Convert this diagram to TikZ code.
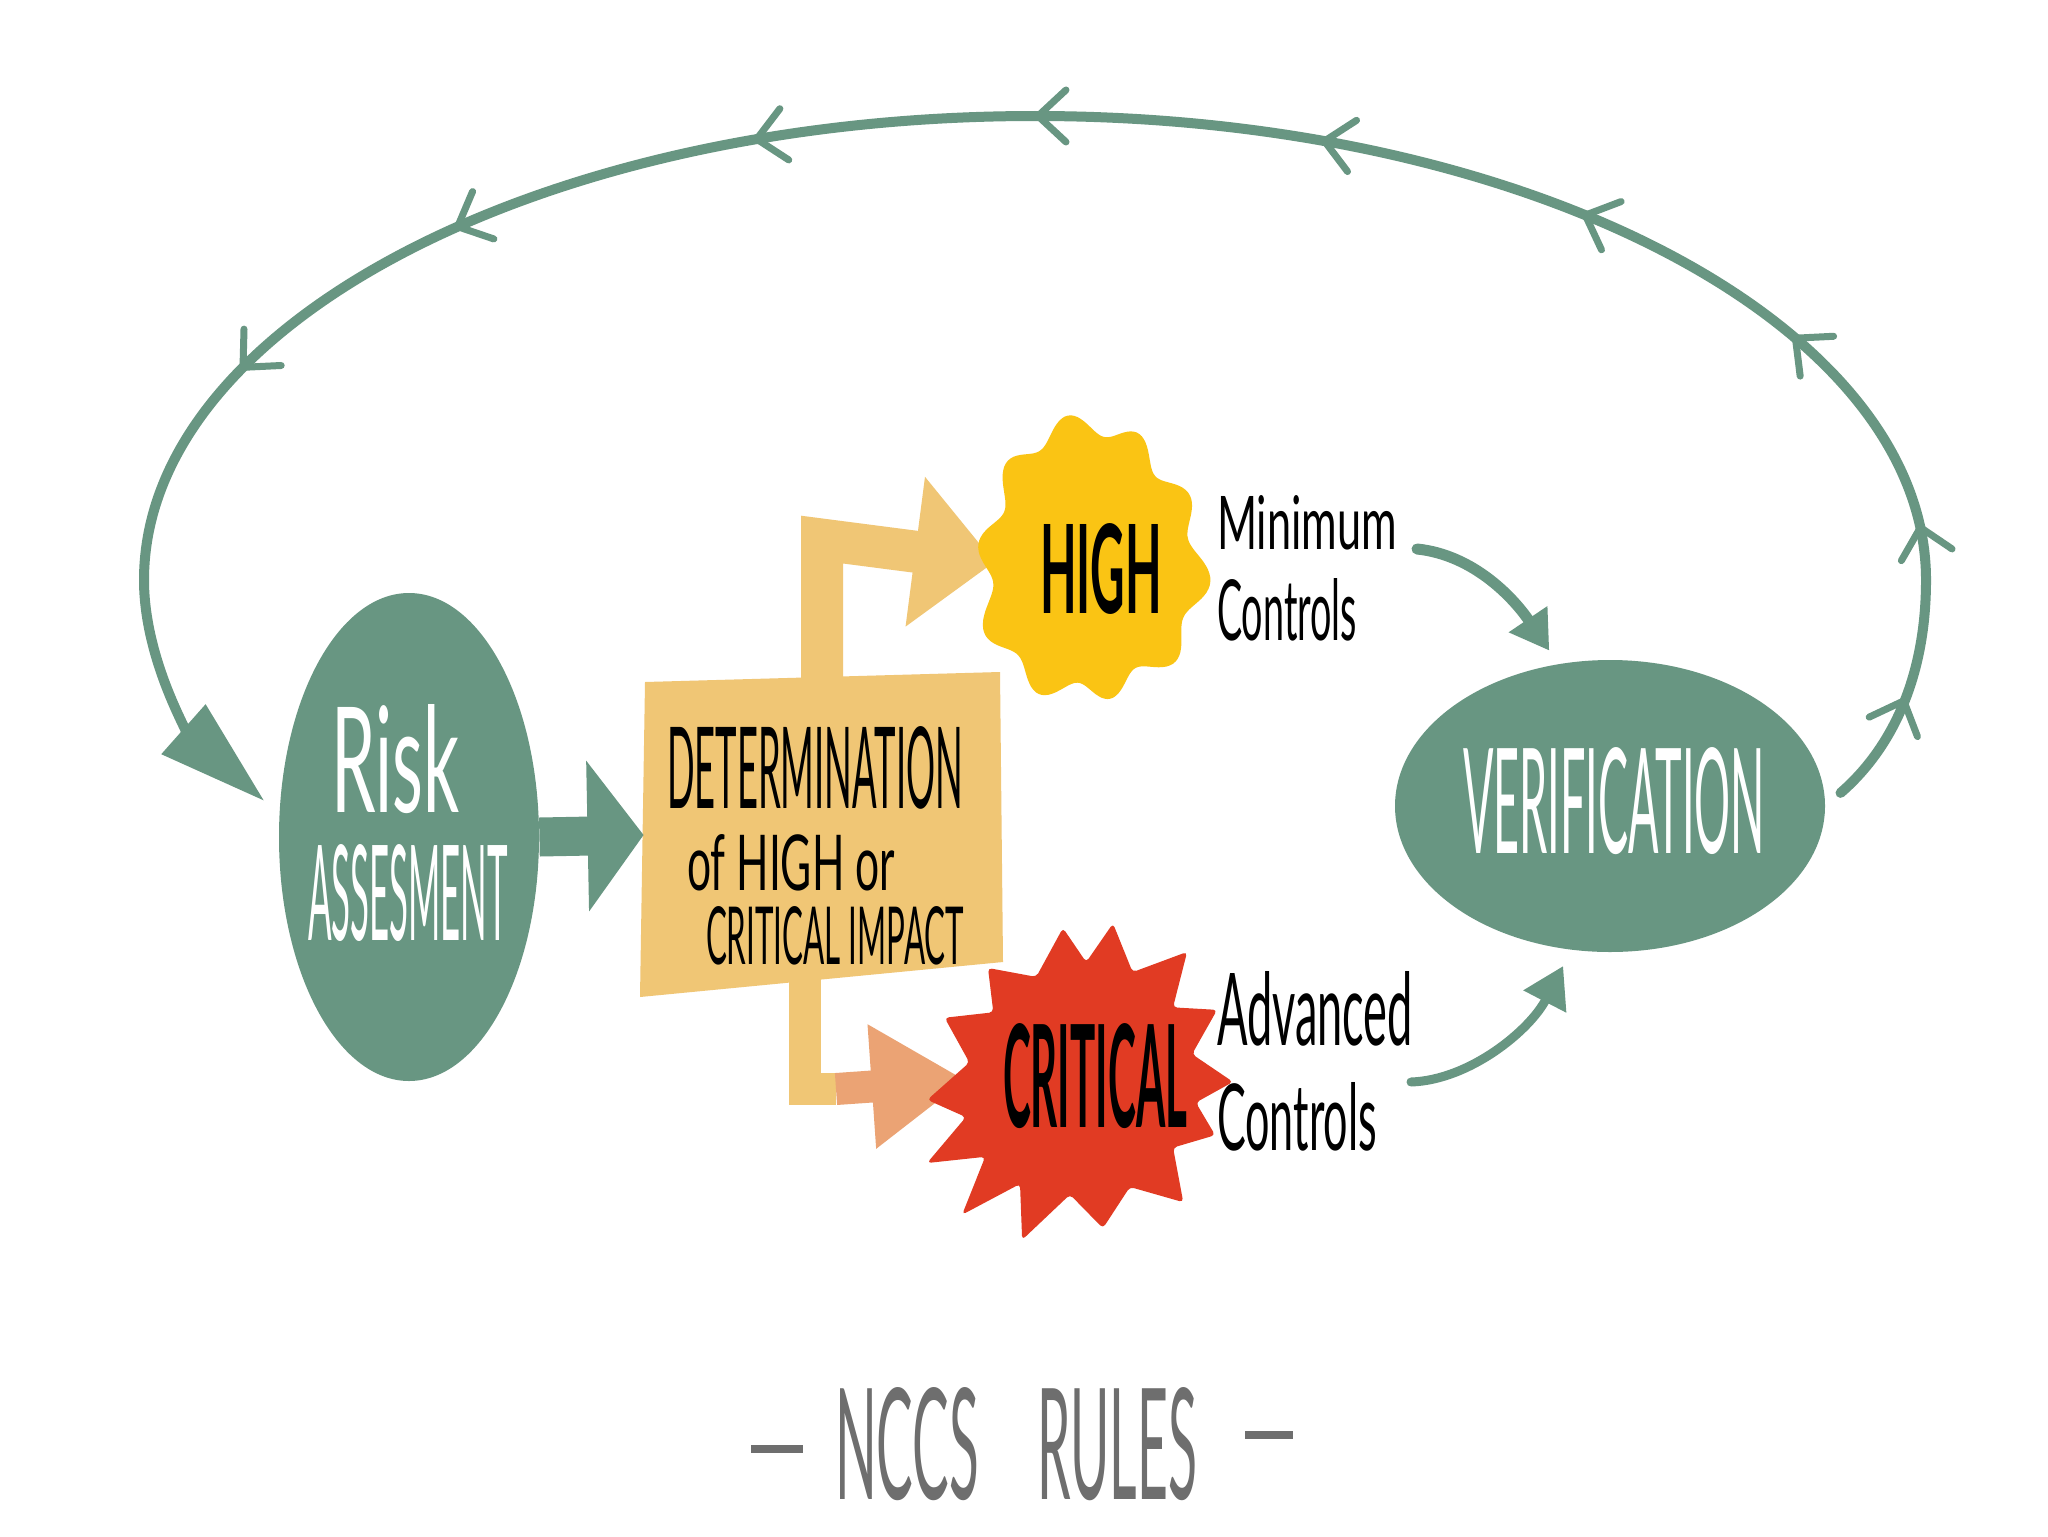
\documentclass[tikz,border=0pt]{standalone}
\usepackage{fontspec}
\usepackage{graphicx}
\newfontfamily\hwfont{Lato}
\usetikzlibrary{arrows.meta,decorations.markings,backgrounds,shapes.geometric}
\definecolor{gr}{HTML}{689682}
\definecolor{boxc}{HTML}{F0C675}
\definecolor{yel}{HTML}{FAC414}
\definecolor{redc}{HTML}{E13B23}
\definecolor{salm}{HTML}{EBA374}
\definecolor{greyc}{HTML}{6E6E6E}
\tikzset{chevtip/.tip={Straight Barb[length=14pt,width=26pt,line width=3.5pt,round]}}
\begin{document}
\begin{tikzpicture}[x=0.5pt,y=-0.5pt,
  hw/.style={inner sep=0pt, outer sep=0pt, font=\hwfont\fontsize{40}{48}\selectfont},
  hwb/.style={inner sep=0pt, outer sep=0pt, font=\hwfont\bfseries\fontsize{40}{48}\selectfont},
  blob/.style={ellipse, fill=gr, inner sep=0pt},
  anchorbox/.style={inner sep=0pt}]
\useasboundingbox (0,0) rectangle (2048,1536);

% main nodes
\node[blob, minimum width=130pt, minimum height=244pt] (risk) at (409,837) {};
\node[blob, minimum width=215pt, minimum height=146pt] (ver) at (1610,806) {};
\node[anchorbox, rectangle, minimum width=178pt, minimum height=157pt] (det) at (822,835) {};
\node[anchorbox, ellipse, minimum width=95pt, minimum height=130pt] (high) at (1090,562) {};
\node[anchorbox, ellipse, minimum width=114pt, minimum height=120pt] (crit) at (1080,1080) {};
\coordinate (split) at (836,1089);

% texts
\node[hw, text=white, anchor=base] (riskA) at (395,812) {\resizebox{64pt}{54pt}{Risk}};
\node[hw, text=white, anchor=base] (riskB) at (408,940) {\resizebox{100pt}{48pt}{ASSESMENT}};
\node[hw, anchor=base] (detA) at (815,808) {\resizebox{148pt}{41pt}{DETERMINATION}};
\node[hw, anchor=base] (detB) at (791,890) {\resizebox{104pt}{28pt}{of HIGH or}};
\node[hw, anchor=base] (detC) at (835,964) {\resizebox{129pt}{29pt}{CRITICAL IMPACT}};
\node[hwb, anchor=base] (highT) at (1101,613) {\resizebox{61pt}{45pt}{HIGH}};
\node[hwb, anchor=base] (critT) at (1095,1127) {\resizebox{92pt}{52pt}{CRITICAL}};
\node[hw, anchor=base west] (minA) at (1217,549) {\resizebox{90pt}{27pt}{Minimum}};
\node[hw, anchor=base west] (minB) at (1217,640) {\resizebox{70pt}{31pt}{Controls}};
\node[hw, anchor=base west] (advA) at (1217,1045) {\resizebox{98pt}{37pt}{Advanced}};
\node[hw, anchor=base west] (advB) at (1217,1150) {\resizebox{80pt}{34pt}{Controls}};
\node[hw, text=white, anchor=base] (verT) at (1614,853) {\resizebox{151pt}{53pt}{VERIFICATION}};
\node[hw, text=greyc, anchor=base] (title) at (1022,1499) {\raisebox{23pt}{\rule{26pt}{4pt}}\hspace{16pt}\resizebox{72pt}{56pt}{NCCS}\hspace{29pt}\resizebox{80pt}{56pt}{RULES}\hspace{24pt}\raisebox{30pt}{\rule{24pt}{4pt}}};

\begin{scope}[on background layer]
  \fill[white] (0,0) rectangle (2048,1536);
  \fill[boxc] (645,682) -- (1000,672) -- (1003,962) -- (640,997) -- cycle;
  % connectors
  \draw[gr, line width=19.5pt, -{Triangle[length=28pt,width=74pt]}] (risk.east) -- (det.west);
  \draw[boxc, line width=21pt, line join=miter, -{Triangle[length=40pt,width=73pt]}]
    ([yshift=-5pt]det.north) -- ++(0,-148) -- (high.west);
  \draw[boxc, line width=16pt, line join=miter] ([xshift=-8.5pt,yshift=10pt]det.south) |- (split);
  \draw[salm, line width=16pt, -{Triangle[length=47pt,width=59pt]}] (split) -- (crit.west);
  \draw[gr, line width=5.5pt, line cap=round, shorten >=8pt, -{Triangle[length=19pt,width=22pt]}]
    ([xshift=10pt]minA.base east) .. controls (1475,555) and (1515,600) .. (ver.110);
  \draw[gr, line width=4.5pt, line cap=round, shorten >=9pt, -{Triangle[length=20pt,width=23pt]}]
    ([xshift=17pt]advB.north east) .. controls (1470,1080) and (1530,1030) .. (ver.255);
  \draw[gr, line width=5pt, line cap=round, shorten <=10pt, shorten >=10pt,
    -{Triangle[length=54pt,width=32pt]},
    postaction={decorate, decoration={markings,
      mark=at position 0.05 with {\arrow{chevtip}},
      mark=at position 0.115 with {\arrow{chevtip}},
      mark=at position 0.20 with {\arrow{chevtip}},
      mark=at position 0.29 with {\arrow{chevtip}},
      mark=at position 0.39 with {\arrow{chevtip}},
      mark=at position 0.496 with {\arrow{chevtip}},
      mark=at position 0.60 with {\arrow{chevtip}},
      mark=at position 0.715 with {\arrow{chevtip}},
      mark=at position 0.81 with {\arrow{chevtip}}}}]
    (ver.east) .. controls (1890,750) and (1926,680) .. (1926,580)
    .. controls (1926,324) and (1527,116) .. (1035,116)
    .. controls (543,116) and (144,324) .. (144,580)
    .. controls (144,660) and (190,735) .. (risk.170);
  % HIGH blob
  \fill[yel] plot[smooth cycle, domain=0:357, samples=120, variable=\t]
    ({1090+(108+9*sin(10*\t+15)+5*sin(3*\t+40))*cos(\t)},
     {562+(134+10*sin(10*\t+15)+5*sin(3*\t+40))*sin(\t)});
  % CRITICAL star
  \begin{scope}[shift={(1080,1080)}]
    \fill[redc, rounded corners=2pt] (-96.4:153) -- (-87:118) -- (-78.1:160) -- (-64:120)
      -- (-50.1:167) -- (-38:118) -- (-27.1:154) -- (-13:115) -- (0.7:153) -- (11:118)
      -- (22.2:146) -- (36:115) -- (49.8:160) -- (65:118) -- (81.2:150) -- (95:115)
      -- (109.9:170) -- (120:120) -- (131.2:179) -- (141:122) -- (151.5:174) -- (162:120)
      -- (172.6:154) -- (189:112) -- (204.7:149) -- (218:110) -- (230.6:145) -- (247:112) -- cycle;
  \end{scope}
\end{scope}
\end{tikzpicture}
\end{document}
